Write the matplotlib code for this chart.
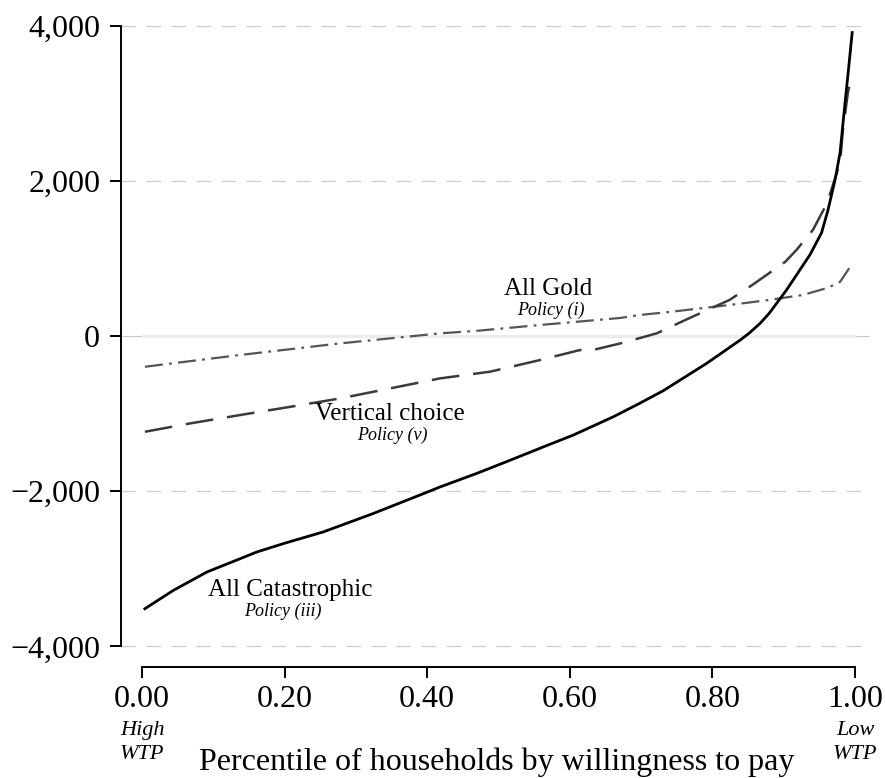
import matplotlib
matplotlib.use("Agg")
import matplotlib.pyplot as plt
import matplotlib.transforms as mtransforms

plt.rcParams['font.family'] = ['Liberation Serif', 'DejaVu Serif']
plt.rcParams['lines.scale_dashes'] = False

# ---- data ----
cat_x = [0.004, 0.044, 0.091, 0.161, 0.20, 0.254, 0.324, 0.395, 0.418, 0.469, 0.511,
         0.568, 0.605, 0.661, 0.698, 0.731, 0.792, 0.839, 0.852, 0.867, 0.88, 0.904,
         0.937, 0.953, 0.962, 0.972, 0.979, 0.986, 0.991, 0.996]
cat_y = [-3514, -3277, -3041, -2783, -2670, -2525, -2288, -2030, -1945, -1772, -1620,
         -1410, -1276, -1041, -867, -705, -352, -52, 40, 164, 297, 594,
         1050, 1329, 1620, 2013, 2361, 3006, 3450, 3910]

vc_x = [0.004, 0.067, 0.137, 0.208, 0.278, 0.348, 0.418, 0.488, 0.558, 0.614, 0.628,
        0.675, 0.722, 0.764, 0.824, 0.856, 0.902, 0.918, 0.941, 0.961, 0.979, 0.983,
        0.990, 0.994]
vc_y = [-1234, -1127, -1019, -912, -804, -675, -546, -460, -310, -181, -190,
        -86, 35, 215, 465, 658, 955, 1110, 1368, 1716, 2232, 2658,
        3135, 3303]

gold_x = [0.004, 0.137, 0.278, 0.418, 0.472, 0.558, 0.670, 0.698, 0.740, 0.824, 0.880,
          0.927, 0.961, 0.979, 0.993]
gold_y = [-396, -245, -95, 34, 69, 142, 232, 271, 310, 400, 465, 529, 619, 697, 890]

x_ticks = [0.0, 0.2, 0.4, 0.6, 0.8, 1.0]
x_ticklabels = ["0.00", "0.20", "0.40", "0.60", "0.80", "1.00"]
y_ticks = [-4000, -2000, 0, 2000, 4000]
y_ticklabels = ["\u22124,000", "\u22122,000", "0", "2,000", "4,000"]

# ---- figure ----
W, H = 885, 778
fig = plt.figure(figsize=(W / 100, H / 100), dpi=100)
ax = fig.add_axes([121 / W, 1 - 667 / H, (870 - 121) / W, (667 - 20) / H])
ax.set_xlim(-0.0295, 1.021)
ax.set_ylim(-4265, 4072)

# grid lines
for v in y_ticks:
    if v == 0:
        ax.axhline(v, color='#c8c8c8', lw=0.8, zorder=0)
    else:
        ax.axhline(v, color='#cccccc', lw=0.9, dashes=(10.5, 7.5), zorder=0)
ax.plot([0, 1], [0, 0], color='#ececec', lw=2.2, solid_capstyle='butt', zorder=1)

# series
ax.plot(gold_x, gold_y, color='#555555', lw=1.6, dashes=(13, 4.5, 2, 4.5), zorder=3)
ax.plot(vc_x, vc_y, color='#3a3a3a', lw=1.8, dashes=(20, 10), zorder=3)
ax.plot(cat_x, cat_y, color='black', lw=2.0, zorder=4)

# labels on curves
ax.text(0.569, 530, "All Gold", fontsize=18, ha='center', va='baseline')
ax.text(0.574, 275, "Policy (i)", fontsize=13, style='italic', ha='center', va='baseline')
ax.text(0.348, -1080, "Vertical choice", fontsize=18, ha='center', va='baseline')
ax.text(0.351, -1335, "Policy (v)", fontsize=13, style='italic', ha='center', va='baseline')
ax.text(0.208, -3348, "All Catastrophic", fontsize=18, ha='center', va='baseline')
ax.text(0.197, -3603, "Policy (iii)", fontsize=13, style='italic', ha='center', va='baseline')

# spines / ticks
for s in ['top', 'right']:
    ax.spines[s].set_visible(False)
ax.spines['left'].set_bounds(-4000, 4000)
ax.spines['bottom'].set_bounds(0, 1)
ax.spines['left'].set_linewidth(1.4)
ax.spines['bottom'].set_linewidth(1.4)
ax.set_xticks(x_ticks)
ax.set_xticklabels(x_ticklabels)
ax.set_yticks(y_ticks)
ax.set_yticklabels(y_ticklabels)
ax.tick_params(axis='both', direction='out', length=8, width=1.4, labelsize=23,
               colors='black')
ax.tick_params(axis='y', pad=7)
ax.tick_params(axis='x', pad=5)

# end annotations and axis title
bt = mtransforms.blended_transform_factory(ax.transData, fig.transFigure)
ax.text(0.0, 1 - 735 / H, "High", transform=bt, fontsize=16, style='italic', ha='center', va='baseline')
ax.text(0.0, 1 - 759 / H, "WTP", transform=bt, fontsize=16, style='italic', ha='center', va='baseline')
ax.text(1.0, 1 - 735 / H, "Low", transform=bt, fontsize=16, style='italic', ha='center', va='baseline')
ax.text(1.0, 1 - 759 / H, "WTP", transform=bt, fontsize=16, style='italic', ha='center', va='baseline')
fig.text(497 / W, 1 - 770 / H, "Percentile of households by willingness to pay",
         fontsize=23, ha='center', va='baseline')

fig.savefig("out.png", dpi=100)
